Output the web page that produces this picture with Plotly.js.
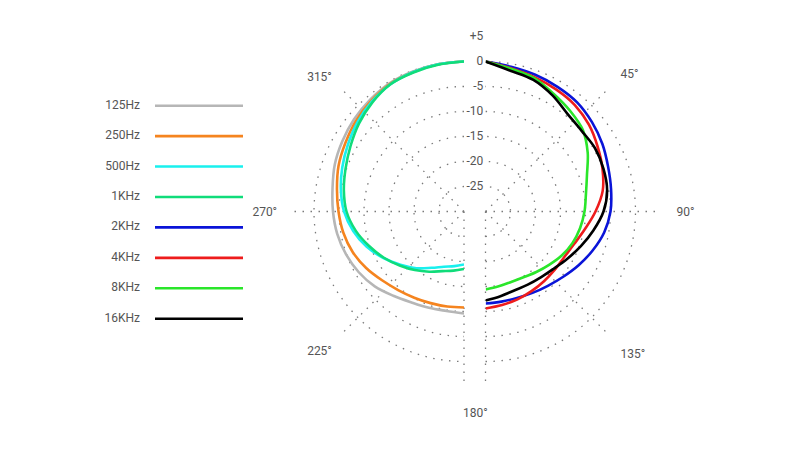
<!DOCTYPE html>
<html><head><meta charset="utf-8">
<script src="https://cdn.plot.ly/plotly-3.0.1.min.js"></script>
<style>html,body{margin:0;padding:0;background:#fff}#chart{width:800px;height:450px}</style>
</head><body><div id="chart"></div>
<script>
// ---- data ----
const anglesRight = [0,10,20,30,40,50,60,70,80,90,100,110,120,130,140,150,160,170,180];
const anglesLeft  = [180,190,200,210,220,230,240,250,260,270,280,290,300,310,320,330,340,350,360];

const r125Hz = [-9.6,-9.8,-9.5,-9.0,-8.0,-6.7,-5.7,-4.9,-4.25,-3.8,-3.3,-2.5,-1.9,-1.3,-0.8,-0.35,-0.2,-0.1,0];
const r250Hz = [-10.8,-10.7,-10.5,-10.1,-9.5,-8.6,-7.4,-6.3,-5.5,-4.9,-4.2,-3.3,-2.6,-1.8,-1.1,-0.5,-0.3,-0.1,0];
const r500Hz = [-19.4,-18.9,-18.25,-17.0,-15.2,-13.4,-11.4,-9.3,-7.5,-6.0,-5.0,-4.1,-3.2,-2.2,-1.3,-0.6,-0.3,-0.1,0];
const r1KHz  = [-18.5,-18.0,-17.3,-16.1,-14.7,-13.2,-11.5,-9.8,-8.0,-6.5,-5.6,-4.8,-3.8,-2.6,-1.5,-0.6,-0.4,-0.2,0];

const r2KHz  = [0,-0.6,-0.9,-1.2,-1.5,-2.2,-3.0,-3.9,-4.5,-5.0,-5.9,-7.2,-8.5,-9.7,-10.6,-11.2,-11.6,-11.7,-11.6];
const r4KHz  = [0,-0.9,-1.4,-1.8,-2.2,-3.0,-4.1,-5.1,-6.2,-8.0,-9.8,-11.1,-11.8,-11.9,-11.8,-11.6,-11.3,-11.0,-10.6];
const r8KHz  = [0,-1.0,-1.6,-2.8,-3.7,-4.6,-6.4,-8.4,-9.6,-10.2,-10.8,-11.5,-12.4,-13.4,-14.2,-14.8,-15.0,-14.8,-14.4];
const r16KHz = [0,-1.4,-2.0,-3.2,-4.5,-4.9,-4.7,-4.9,-5.3,-6.4,-8.1,-9.7,-11.1,-12.2,-12.8,-13.1,-13.2,-12.8,-12.2];

const seriesNames  = ['125Hz','250Hz','500Hz','1KHz','2KHz','4KHz','8KHz','16KHz'];
const seriesValues = [r125Hz, r250Hz, r500Hz, r1KHz, r2KHz, r4KHz, r8KHz, r16KHz];
const seriesSide   = ['left','left','left','left','right','right','right','right'];
const seriesColors = ['#b6b6b6','#f5841f','#19f0ee','#10dc7a','#0a14d8','#ee1c1c','#2ae62a','#000000'];

const radialTickVals = [-25,-20,-15,-10,-5,0,5];
const radialTickText = ['-25','-20','-15','-10','-5','0','+5'];
const rightTickVals = [45,90,135,180];
const rightTickText = ['45°','90°','135°',''];
const leftTickVals  = [180,225,270,315];
const leftTickText  = ['','225°','270°','315°'];

// ---- layout constants ----
const W = 800, H = 450;
const R = 175, cy = 211.5, cxL = 464, cxR = 485.5;
const legendTop = 105.7, legendStep = 30.43, legendX0 = 155, legendX1 = 243, legendTextX = 140;
const gridColor = '#7a7a7a';
const gridDash = '1.5px,6.5px';
const textColor = '#555';
const fontFam = 'Roboto, Arial, sans-serif';

const traces = [];
seriesNames.forEach((name, i) => {
  traces.push({
    type: 'scatterpolar',
    mode: 'lines',
    r: seriesValues[i],
    theta: seriesSide[i] === 'left' ? anglesLeft : anglesRight,
    subplot: seriesSide[i] === 'left' ? 'polar2' : 'polar',
    line: {color: seriesColors[i], width: 2.6, shape: 'spline', smoothing: 1},
    showlegend: false, hoverinfo: 'skip', name: name
  });
});
// custom legend (text left, line right)
seriesNames.forEach((name, i) => {
  const y = legendTop + i * legendStep;
  traces.push({
    type: 'scatter', mode: 'lines', x: [legendX0, legendX1], y: [y, y],
    xaxis: 'x', yaxis: 'y', line: {color: seriesColors[i], width: 2.6},
    showlegend: false, hoverinfo: 'skip'
  });
});
traces.push({
  type: 'scatter', mode: 'text',
  x: seriesNames.map(() => legendTextX),
  y: seriesNames.map((n, i) => legendTop + i * legendStep),
  text: seriesNames, textposition: 'middle left',
  textfont: {family: fontFam, size: 12, color: textColor},
  xaxis: 'x', yaxis: 'y', showlegend: false, hoverinfo: 'skip'
});

function radial(show) {
  return {
    range: [-30, 5], tickvals: radialTickVals, ticktext: radialTickText,
    showticklabels: show, ticks: '', showline: false, angle: 90, tickangle: 90,
    side: 'counterclockwise',
    tickfont: {family: fontFam, size: 12, color: textColor},
    gridcolor: gridColor, griddash: gridDash, gridwidth: 1.3
  };
}
function angular(vals, txt, tl) {
  return {
    rotation: 90, direction: 'clockwise', tickvals: vals, ticktext: txt,
    showline: false, ticks: 'outside', ticklen: tl, tickcolor: 'rgba(0,0,0,0)',
    tickfont: {family: fontFam, size: 12, color: textColor},
    gridcolor: gridColor, griddash: gridDash, gridwidth: 1.3
  };
}

const layout = {
  width: W, height: H, margin: {l: 0, r: 0, t: 0, b: 0},
  paper_bgcolor: '#fff', plot_bgcolor: 'rgba(0,0,0,0)',
  showlegend: false,
  font: {family: fontFam, size: 12, color: textColor},
  xaxis: {domain: [0, 280 / W], range: [0, 280], visible: false, fixedrange: true},
  yaxis: {domain: [0, 1], range: [H, 0], visible: false, fixedrange: true},
  polar: {
    domain: {x: [cxR / W, (cxR + R) / W], y: [1 - (cy + R) / H, 1 - (cy - R) / H]},
    sector: [-90, 90], bgcolor: 'rgba(0,0,0,0)',
    radialaxis: radial(true), angularaxis: angular(rightTickVals, rightTickText, 13)
  },
  polar2: {
    domain: {x: [(cxL - R) / W, cxL / W], y: [1 - (cy + R) / H, 1 - (cy - R) / H]},
    sector: [-270, -90], bgcolor: 'rgba(0,0,0,0)',
    radialaxis: radial(false), angularaxis: angular(leftTickVals, leftTickText, 9)
  },
  annotations: [{
    text: '180°', xref: 'paper', yref: 'paper', x: 475 / W, y: 1 - 413 / H,
    xanchor: 'center', yanchor: 'middle', showarrow: false,
    font: {family: fontFam, size: 12, color: textColor}
  }]
};

Plotly.newPlot('chart', traces, layout, {staticPlot: true, displayModeBar: false});
</script></body></html>
